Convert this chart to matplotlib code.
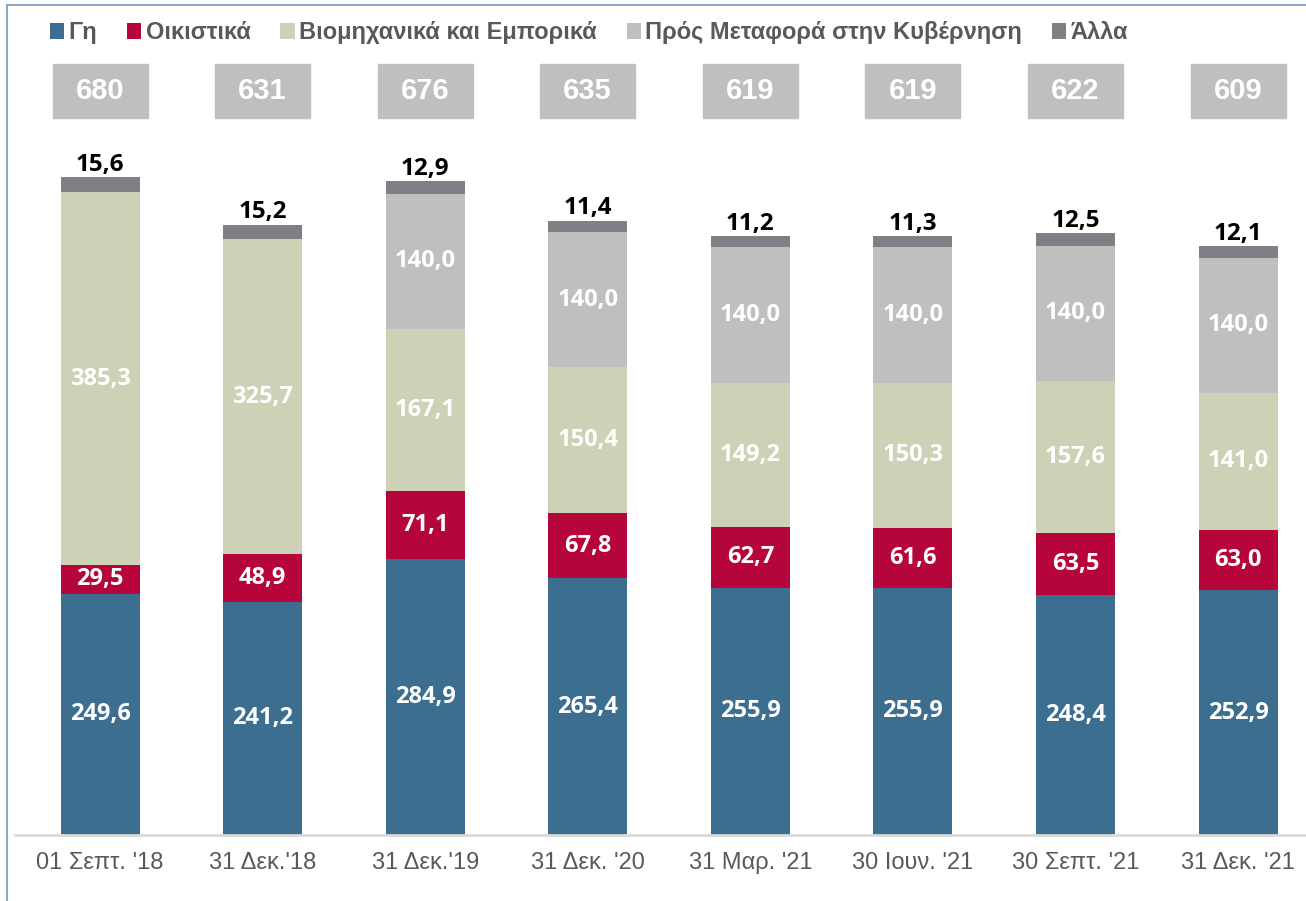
import numpy as np
import matplotlib.pyplot as plt
from matplotlib.patches import Rectangle, Patch

plt.rcParams['font.family'] = ['Liberation Sans', 'DejaVu Sans']

# Δεδομένα
categories = ["01 Σεπτ. '18", "31 Δεκ.'18", "31 Δεκ.'19", "31 Δεκ. '20",
              "31 Μαρ. '21", "30 Ιουν. '21", "30 Σεπτ. '21", "31 Δεκ. '21"]
series_names = ["Γη", "Οικιστικά", "Βιομηχανικά και Εμπορικά",
                "Πρός Μεταφορά στην Κυβέρνηση", "Άλλα"]
gi = [249.6, 241.2, 284.9, 265.4, 255.9, 255.9, 248.4, 252.9]
oikistika = [29.5, 48.9, 71.1, 67.8, 62.7, 61.6, 63.5, 63.0]
viomichanika = [385.3, 325.7, 167.1, 150.4, 149.2, 150.3, 157.6, 141.0]
metafora = [0, 0, 140.0, 140.0, 140.0, 140.0, 140.0, 140.0]
alla = [15.6, 15.2, 12.9, 11.4, 11.2, 11.3, 12.5, 12.1]
totals = [680, 631, 676, 635, 619, 619, 622, 609]

colors = ["#3B6E8F", "#B5053A", "#CDD1B5", "#BFBFBF", "#7F7F85"]

fig = plt.figure(figsize=(13.06, 9.01), dpi=100)
ax = fig.add_axes([15 / 1306, 66 / 901, 1 - 15 / 1306, (835 - 130) / 901])

x = np.arange(len(categories))
width = 0.486
series = [gi, oikistika, viomichanika, metafora, alla]
bottom = np.zeros(len(categories))
for k, (vals, col) in enumerate(zip(series, colors)):
    vals = np.array(vals)
    ax.bar(x, vals, width, bottom=bottom, color=col, edgecolor='none', zorder=2)
    for i, v in enumerate(vals):
        if v <= 0:
            continue
        lbl = f"{v:.1f}".replace('.', ',')
        if k == 4:
            ax.text(x[i], bottom[i] + v + 0.5, lbl, ha='center', va='bottom',
                    fontsize=17.5, fontweight='bold', color='black',
                    family=['Open Sans', 'DejaVu Sans'])
        else:
            ax.text(x[i], bottom[i] + v / 2, lbl, ha='center', va='center',
                    fontsize=17, fontweight='bold', color='white',
                    family=['Open Sans', 'DejaVu Sans'])
    bottom += vals

ax.set_xlim(-0.523, 7.418)
ax.set_ylim(0, 729)
ax.set_yticks([])
ax.set_xticks(x)
ax.set_xticklabels(categories, fontsize=17, color='#595959')
ax.tick_params(axis='x', length=0, pad=12)
for s in ['top', 'right', 'left']:
    ax.spines[s].set_visible(False)
ax.spines['bottom'].set_color('#D9D9D9')
ax.spines['bottom'].set_linewidth(2)

# Κουτιά συνόλων
for i, t in enumerate(totals):
    xc = ax.transData.transform((x[i], 0))[0] / 1306
    bw, bh = 95 / 1306, 54 / 901
    yc = 1 - 91 / 901
    fig.patches.append(Rectangle((xc - bw / 2, yc - bh / 2), bw, bh,
                                 transform=fig.transFigure, color='#BFBFBF'))
    fig.text(xc, yc, str(t), ha='center', va='center', fontsize=21,
             fontweight='bold', color='white')

# Υπόμνημα
handles = [Patch(facecolor=c, edgecolor='none') for c in colors]
leg = fig.legend(handles, series_names, loc='upper left',
                 bbox_to_anchor=(0.022, 1.0), ncol=5, frameon=False,
                 handlelength=0.6, handleheight=0.7, handletextpad=0.2,
                 columnspacing=1.25, prop={'weight': 'bold', 'size': 17})
for txt in leg.get_texts():
    txt.set_color('#595959')

# Πλαίσιο
fig.patches.append(Rectangle((7 / 1306, -0.1), 1.2, 1 - 5 / 901 + 0.1,
                             transform=fig.transFigure, fill=False,
                             edgecolor='#8EA9C8', linewidth=1.5))

fig.savefig('out.png', dpi=100)
